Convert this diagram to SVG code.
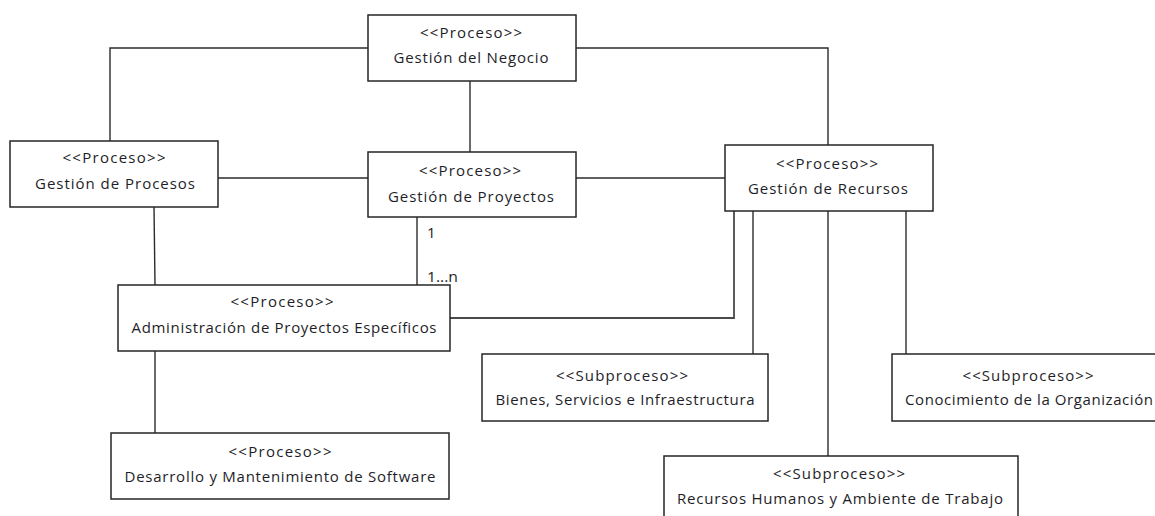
<svg xmlns="http://www.w3.org/2000/svg" width="1155" height="516" viewBox="0 0 1155 516">
  <style>
    .box { fill: #ffffff; stroke: #262626; stroke-width: 1.5; }
    .wire { fill: none; stroke: #2b2b2b; stroke-width: 1.4; }
    .wire-soft { fill: none; stroke: #4a4a4a; stroke-width: 1.8; }
    text { font-family: "Open Sans", "Noto Sans", "Liberation Sans", sans-serif; font-size: 15px; fill: #1e1e28; }
    .c { text-anchor: middle; }
  </style>
  <rect width="1155" height="516" fill="#ffffff"/>

  <!-- connectors -->
  <g id="connectors">
    <polyline class="wire" points="368,48 110,48 110,141"/>
    <polyline class="wire" points="576,48 828,48 828,145"/>
    <line class="wire" x1="470" y1="81" x2="470" y2="152"/>
    <line class="wire" x1="218" y1="178" x2="368" y2="178"/>
    <line class="wire" x1="576" y1="178" x2="725" y2="178"/>
    <line class="wire" x1="417" y1="217" x2="417" y2="285"/>
    <line class="wire" x1="154" y1="207" x2="155" y2="285"/>
    <polyline class="wire-soft" points="450,318 734,318 734,211"/>
    <line class="wire" x1="753" y1="211" x2="753" y2="354"/>
    <line class="wire" x1="828" y1="211" x2="828" y2="456"/>
    <line class="wire" x1="906" y1="211" x2="906" y2="354"/>
    <line class="wire" x1="155" y1="351" x2="155" y2="433"/>
    <text x="427" y="238">1</text>
    <text x="427" y="282" textLength="31" lengthAdjust="spacingAndGlyphs">1...n</text>
  </g>

  <g id="gestion-negocio">
    <rect class="box" x="368" y="15" width="208" height="66"/>
    <text class="c" x="471" y="38" textLength="102">&lt;&lt;Proceso&gt;&gt;</text>
    <text class="c" x="471" y="63" textLength="155">Gestión del Negocio</text>
  </g>

  <g id="gestion-procesos">
    <rect class="box" x="10" y="141" width="208" height="66"/>
    <text class="c" x="114" y="163" textLength="103">&lt;&lt;Proceso&gt;&gt;</text>
    <text class="c" x="115" y="189" textLength="160">Gestión de Procesos</text>
  </g>

  <g id="gestion-proyectos">
    <rect class="box" x="368" y="152" width="208" height="65"/>
    <text class="c" x="470" y="176" textLength="102">&lt;&lt;Proceso&gt;&gt;</text>
    <text class="c" x="471" y="202" textLength="166">Gestión de Proyectos</text>
  </g>

  <g id="gestion-recursos">
    <rect class="box" x="725" y="145" width="208" height="66"/>
    <text class="c" x="827" y="169" textLength="102">&lt;&lt;Proceso&gt;&gt;</text>
    <text class="c" x="828" y="194" textLength="160">Gestión de Recursos</text>
  </g>

  <g id="admin-proyectos">
    <rect class="box" x="118" y="285" width="332" height="66"/>
    <text class="c" x="282" y="307" textLength="103">&lt;&lt;Proceso&gt;&gt;</text>
    <text class="c" x="284" y="333" textLength="305">Administración de Proyectos Específicos</text>
  </g>

  <g id="bienes-servicios">
    <rect class="box" x="482" y="354" width="286" height="67"/>
    <text class="c" x="622" y="381" textLength="132">&lt;&lt;Subproceso&gt;&gt;</text>
    <text class="c" x="625" y="405" textLength="259">Bienes, Servicios e Infraestructura</text>
  </g>

  <g id="conocimiento">
    <rect class="box" x="892" y="354" width="270" height="67"/>
    <text class="c" x="1028" y="381" textLength="131">&lt;&lt;Subproceso&gt;&gt;</text>
    <text class="c" x="1029" y="405" textLength="248">Conocimiento de la Organización</text>
  </g>

  <g id="recursos-humanos">
    <rect class="box" x="664" y="456" width="354" height="70"/>
    <text class="c" x="839" y="479" textLength="132">&lt;&lt;Subproceso&gt;&gt;</text>
    <text class="c" x="840" y="504" textLength="326">Recursos Humanos y Ambiente de Trabajo</text>
  </g>

  <g id="desarrollo-software">
    <rect class="box" x="111" y="433" width="338" height="66"/>
    <text class="c" x="280" y="457" textLength="103">&lt;&lt;Proceso&gt;&gt;</text>
    <text class="c" x="280" y="482" textLength="311">Desarrollo y Mantenimiento de Software</text>
  </g>
</svg>
